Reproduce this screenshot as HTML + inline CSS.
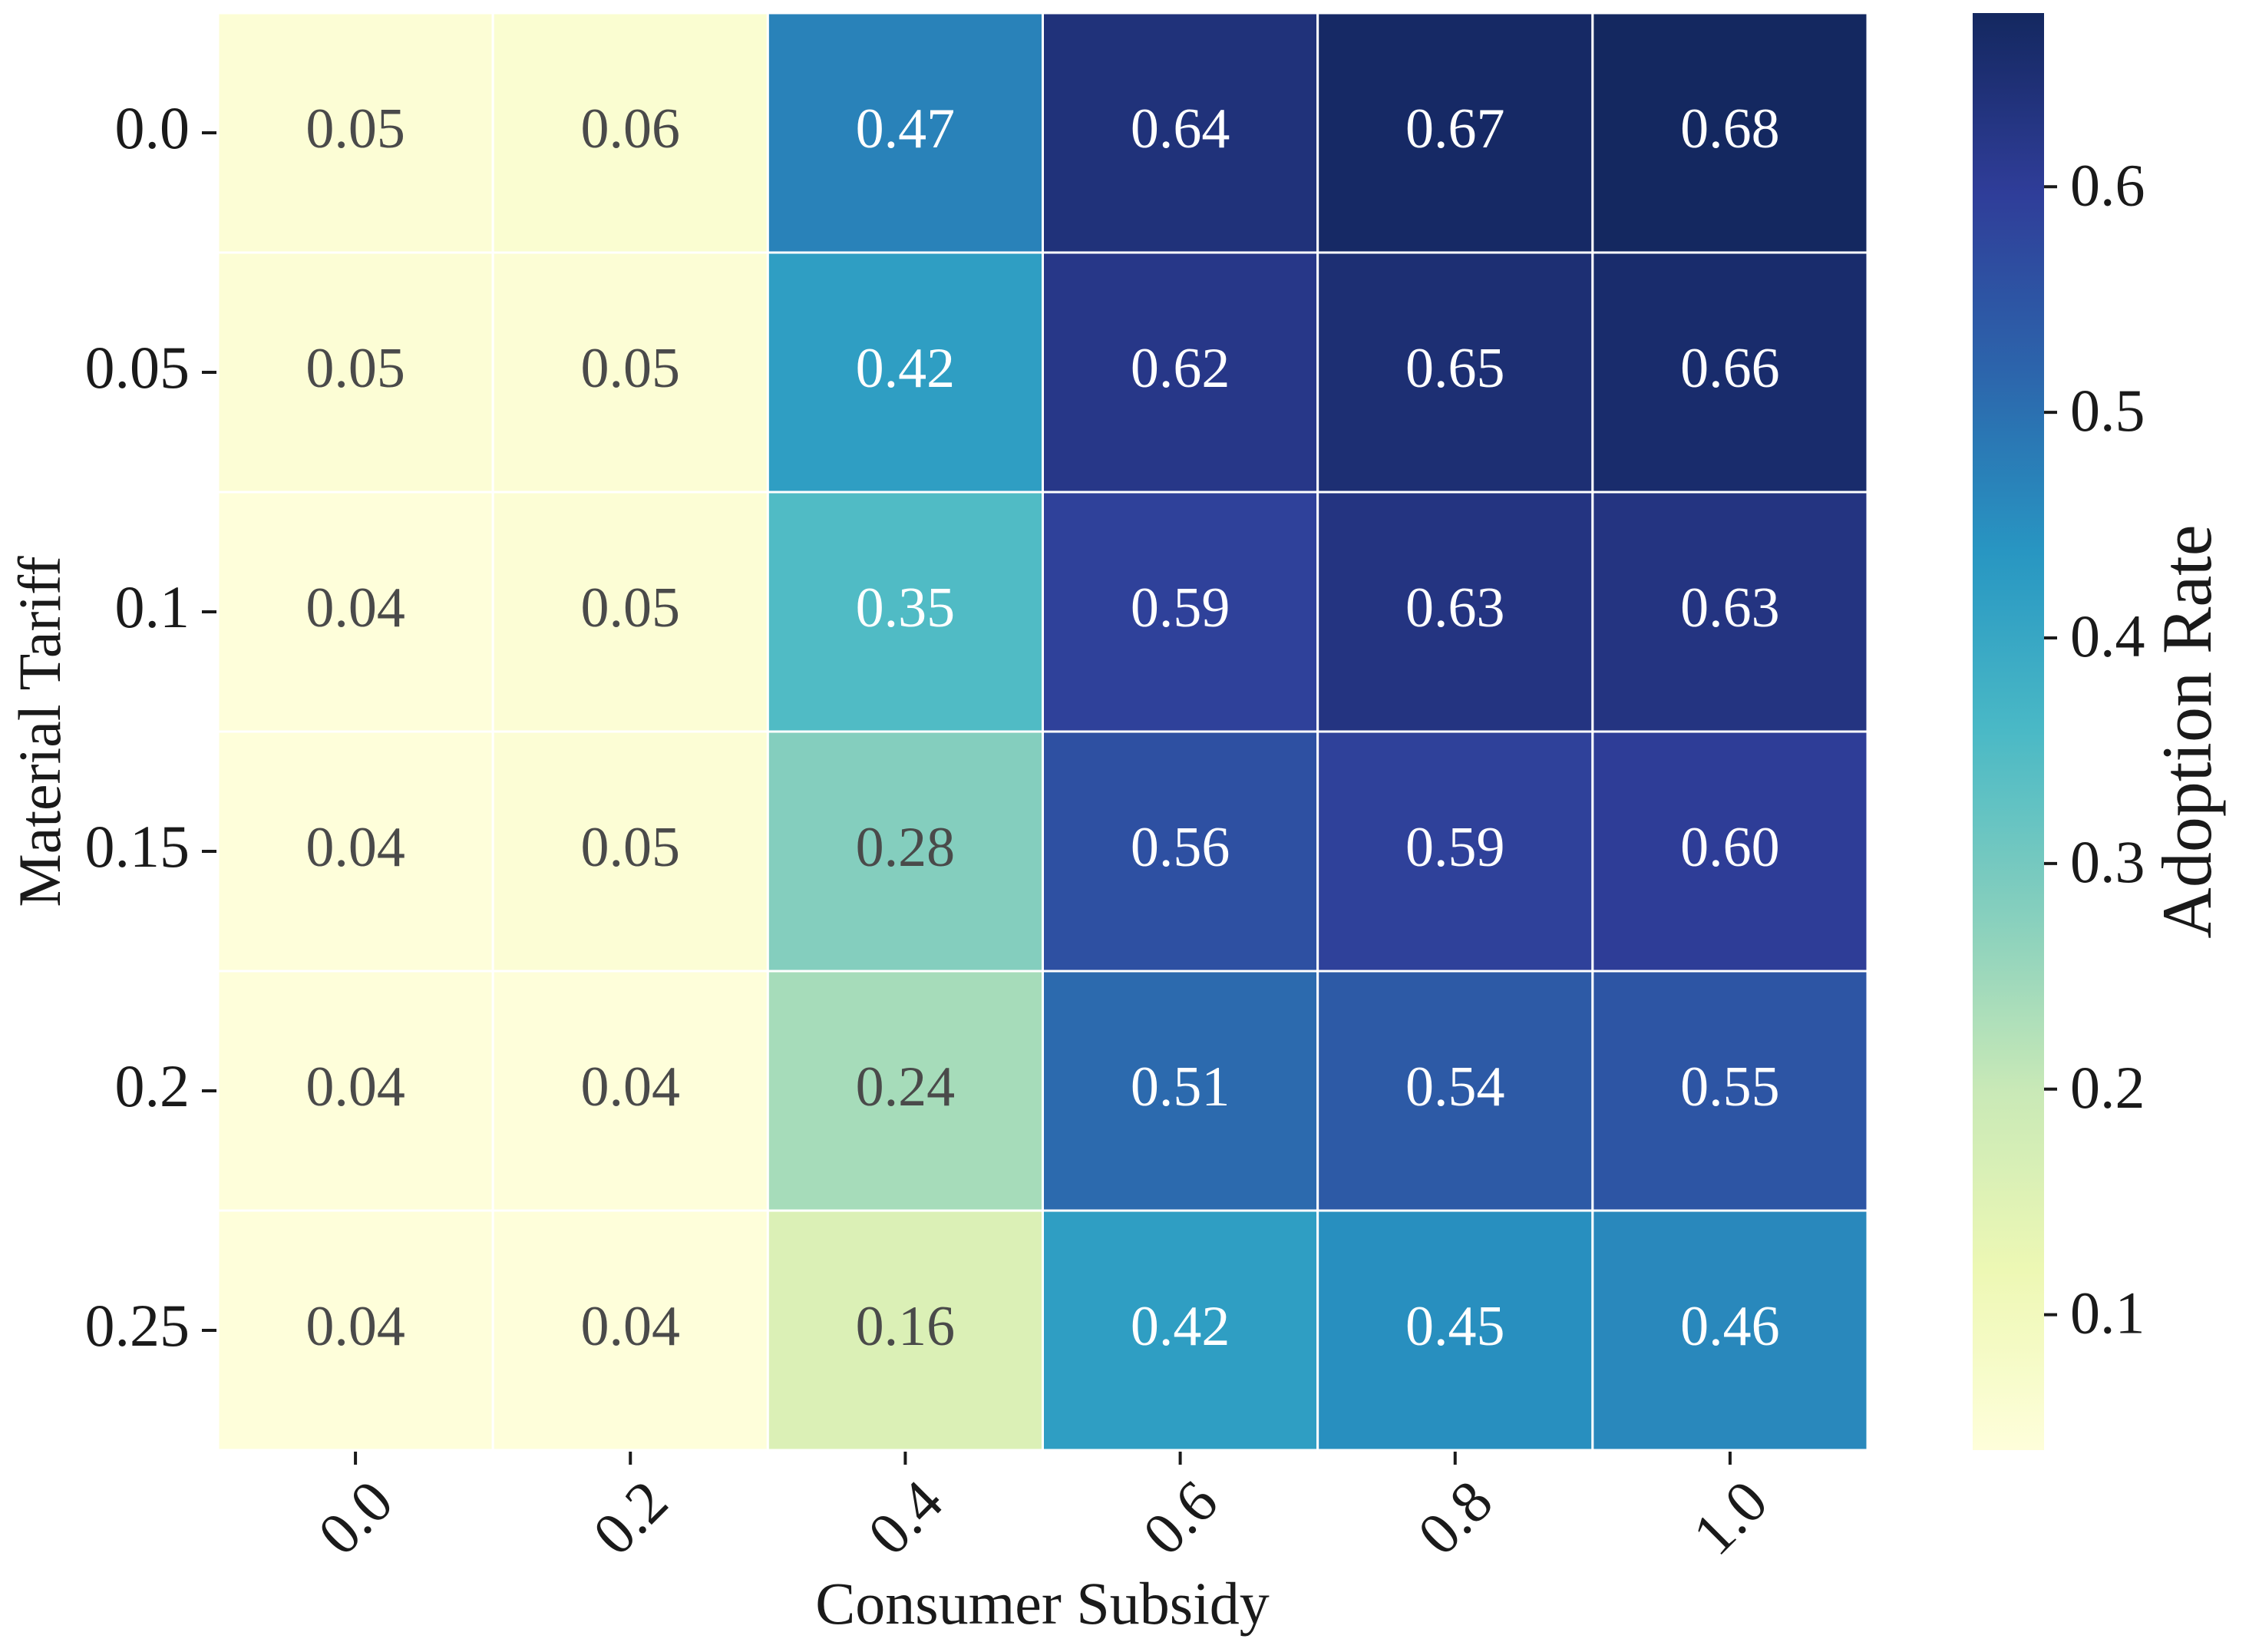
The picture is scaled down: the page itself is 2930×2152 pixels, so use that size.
<!DOCTYPE html>
<html><head><meta charset="utf-8"><style>
html,body{margin:0;padding:0;background:#fff;}
svg{display:block;font-family:"Liberation Serif",serif;}
</style></head><body>
<svg id="chart" width="2930" height="2152" viewBox="0 0 2930 2152">
<defs><linearGradient id="cbgrad" x1="0" y1="1" x2="0" y2="0"></linearGradient></defs>
<g id="cells"></g>
<g id="axes"></g>
<g id="cbar"></g>
<text x="1358" y="2115" font-size="78" text-anchor="middle" fill="#1a1a1a">Consumer Subsidy</text>
<text transform="translate(78,953) rotate(-90)" font-size="78" text-anchor="middle" fill="#1a1a1a">Material Tariff</text>
<text transform="translate(2880,953) rotate(-90)" font-size="92" text-anchor="middle" fill="#1a1a1a">Adoption Rate</text>
</svg>
<script>
const xCategories = ["0.0","0.2","0.4","0.6","0.8","1.0"];
const yCategories = ["0.0","0.05","0.1","0.15","0.2","0.25"];
const row0 = [0.05,0.06,0.47,0.64,0.67,0.68];
const row1 = [0.05,0.05,0.42,0.62,0.65,0.66];
const row2 = [0.04,0.05,0.35,0.59,0.63,0.63];
const row3 = [0.04,0.05,0.28,0.56,0.59,0.60];
const row4 = [0.04,0.04,0.24,0.51,0.54,0.55];
const row5 = [0.04,0.04,0.16,0.42,0.45,0.46];
const values = [row0,row1,row2,row3,row4,row5];
const cbarTicks = [0.1,0.2,0.3,0.4,0.5,0.6];
const vmin = 0.04, vmax = 0.677;

const NS = "http://www.w3.org/2000/svg";
const L=284,R=2433,T=17,B=1889;
const cw=(R-L)/xCategories.length, ch=(B-T)/yCategories.length;
const xPos = i => L + cw*i;
const yPos = j => T + ch*j;
const CBL=2570,CBR=2663;
const cbY = v => B - (v-vmin)/(vmax-vmin)*(B-T);
const stops=["#ffffd9","#edf8b1","#c7e9b4","#7fcdbb","#41b6c4","#1d91c0","#225ea8","#253494","#081d58"];
function hex(h){return [1,3,5].map(k=>parseInt(h.substr(k,2),16));}
function cmap(v){
  let t=Math.max(0,Math.min(1,(v-vmin)/(vmax-vmin)))*(stops.length-1);
  let i=Math.min(Math.floor(t),stops.length-2), f=t-i;
  let a=hex(stops[i]), b=hex(stops[i+1]);
  let raw=a.map((x,k)=>x+(b[k]-x)*f);
  let c=raw.map(x=>Math.round(x*0.95+12));
  return {css:`rgb(${c[0]},${c[1]},${c[2]})`, lum:(0.299*raw[0]+0.587*raw[1]+0.114*raw[2])/255};
}
function mk(tag,attrs,parent){const e=document.createElementNS(NS,tag);for(const k in attrs)e.setAttribute(k,attrs[k]);parent.appendChild(e);return e;}

const cells=document.getElementById('cells');
values.forEach((row,j)=>row.forEach((v,i)=>{
  const c=cmap(v);
  const r=mk('rect',{x:xPos(i),y:yPos(j),width:cw,height:ch,fill:c.css,stroke:'#fff','stroke-width':3},cells);
  
  
  const t=mk('text',{x:xPos(i)+cw/2,y:yPos(j)+ch/2+19,'font-size':74,'text-anchor':'middle',fill:c.lum>0.64?'#4a4a4a':'#ffffff'},cells);
  t.textContent=v.toFixed(2);
  
  
}));

const axes=document.getElementById('axes');
yCategories.forEach((lab,j)=>{
  const y=yPos(j)+ch/2;
  const tk=mk('line',{x1:263,x2:282,y1:y,y2:y,stroke:'#1a1a1a','stroke-width':4},axes);
  
  
  const t=mk('text',{x:247,y:y+20,'font-size':78,'text-anchor':'end',fill:'#1a1a1a'},axes);
  t.textContent=lab;
  
  
});
xCategories.forEach((lab,i)=>{
  const x=xPos(i)+cw/2;
  const tk=mk('line',{x1:x,x2:x,y1:1891,y2:1908,stroke:'#1a1a1a','stroke-width':4},axes);
  
  
  const t=mk('text',{transform:`translate(${x},${1977}) rotate(-45)`,y:26,'font-size':78,'text-anchor':'middle',fill:'#1a1a1a'},axes);
  t.textContent=lab;
  
  
});

const grad=document.getElementById('cbgrad');
for(let k=0;k<=40;k++){const v=vmin+(vmax-vmin)*k/40;mk('stop',{offset:(k/40),'stop-color':cmap(v).css},grad);}
const cb=document.getElementById('cbar');
const cr=mk('rect',{x:CBL,y:T,width:CBR-CBL,height:B-T,fill:'url(#cbgrad)'},cb);


cbarTicks.forEach(v=>{
  const y=cbY(v);
  const tk=mk('line',{x1:CBR,x2:CBR+17,y1:y,y2:y,stroke:'#1a1a1a','stroke-width':4},cb);
  
  
  const t=mk('text',{x:2697,y:y+24,'font-size':78,fill:'#1a1a1a'},cb);
  t.textContent=v.toFixed(1);
  
  
});
</script>
</body></html>
